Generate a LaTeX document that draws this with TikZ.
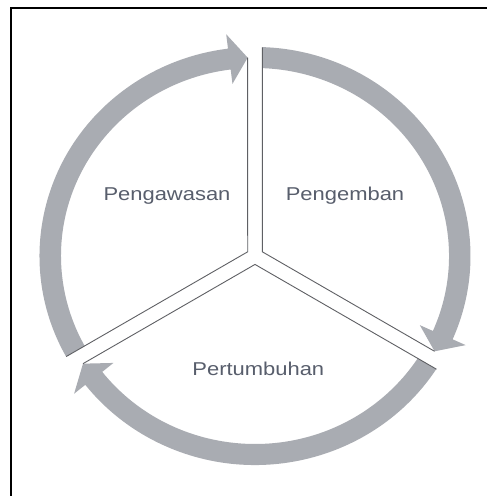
\documentclass[tikz,border=0pt]{standalone}
\usepackage{fontspec}
\setmainfont{Liberation Sans}
\usepackage{graphicx}
\usetikzlibrary{calc}
\definecolor{bandgray}{RGB}{169,172,178}
\definecolor{edgegray}{RGB}{95,96,100}
\definecolor{labelgray}{RGB}{88,94,108}

\begin{document}
\begin{tikzpicture}[x=1pt,y=1pt,
  band/.style={fill=bandgray},
  edge/.style={draw=edgegray, line width=0.9pt},
  frame/.style={draw=black, line width=2pt},
  lbl/.style={text=labelgray, font=\fontsize{18.6}{20}\selectfont, inner sep=0pt, anchor=base}]
\useasboundingbox (0,0) rectangle (487,496);
\fill[white] (0,0) rectangle (487,496);
\clip (0,0) rectangle (487,496);

% outer frame (only its left and top sides fall on the page)
\draw[frame] (11,-10) -- (11,487.5) -- (500,487.5);

% centre of the cycle and apexes of the three separated sectors
\coordinate (O) at (255,240);
\coordinate (A1) at ($(O)+(-7.3,4.21)$);
\coordinate (A2) at ($(O)+(7.3,4.21)$);
\coordinate (A3) at ($(O)+(0,-8.43)$);

% arrow tips, on the mid line of the ring
\coordinate (T1) at ($(O)+(92.05:204.75pt and 198.5pt)$);
\coordinate (T2) at ($(O)+(-28.7:204.75pt and 198.5pt)$);
\coordinate (T3) at ($(O)+(-147.15:204.75pt and 198.5pt)$);

% arrow 1: lower left up to the top
\begin{scope}
  \clip (A1) -- ($(A1)+(90:300)$) -- ($(A1)+(150:600)$) -- ($(A1)+(210:300)$) -- cycle;
  \fill[band] ($(O)+(215:215.5pt and 209pt)$)
    arc[start angle=215, end angle=97.2, x radius=215.5pt, y radius=209pt]
    -- ($(O)+(97.2:229.75pt and 223.5pt)$) -- (T1)
    -- ($(O)+(97.2:179.75pt and 173.5pt)$) -- ($(O)+(97.2:194pt and 188pt)$)
    arc[start angle=97.2, end angle=215, x radius=194pt, y radius=188pt] -- cycle;
\end{scope}

% arrow 2: top down to the lower right
\begin{scope}
  \clip (A2) -- ($(A2)+(90:300)$) -- ($(A2)+(30:600)$) -- ($(A2)+(330:300)$) -- cycle;
  \fill[band] ($(O)+(95:215.5pt and 209pt)$)
    arc[start angle=95, end angle=-23.5, x radius=215.5pt, y radius=209pt]
    -- ($(O)+(-23.5:229.75pt and 223.5pt)$) -- (T2)
    -- ($(O)+(-23.5:179.75pt and 173.5pt)$) -- ($(O)+(-23.5:194pt and 188pt)$)
    arc[start angle=-23.5, end angle=95, x radius=194pt, y radius=188pt] -- cycle;
\end{scope}

% arrow 3: lower right round the bottom to the lower left
\begin{scope}
  \clip (A3) -- ($(A3)+(330:300)$) -- ($(A3)+(270:600)$) -- ($(A3)+(210:300)$) -- cycle;
  \fill[band] ($(O)+(-25:215.5pt and 209pt)$)
    arc[start angle=-25, end angle=-141.95, x radius=215.5pt, y radius=209pt]
    -- ($(O)+(-141.95:229.75pt and 223.5pt)$) -- (T3)
    -- ($(O)+(-141.95:179.75pt and 173.5pt)$) -- ($(O)+(-141.95:194pt and 188pt)$)
    arc[start angle=-141.95, end angle=-25, x radius=194pt, y radius=188pt] -- cycle;
\end{scope}

% straight sides of the sectors
\draw[edge] (T1) -- (A1) -- ($(A1)+(210:209.5)$);
\draw[edge] ($(A2)+(90:204.5)$) -- (A2) -- (T2);
\draw[edge] ($(A3)+(330:209.5)$) -- (A3) -- (T3);

% labels
\node[lbl] (pengawasan) at (167,295) {\scalebox{1.18}[1]{Pengawasan}};
\node[lbl] (pengemban) at (345,295) {\scalebox{1.18}[1]{Pengemban}};
\node[lbl] (pertumbuhan) at (258.3,120) {\scalebox{1.18}[1]{Pertumbuhan}};
\end{tikzpicture}
\end{document}
